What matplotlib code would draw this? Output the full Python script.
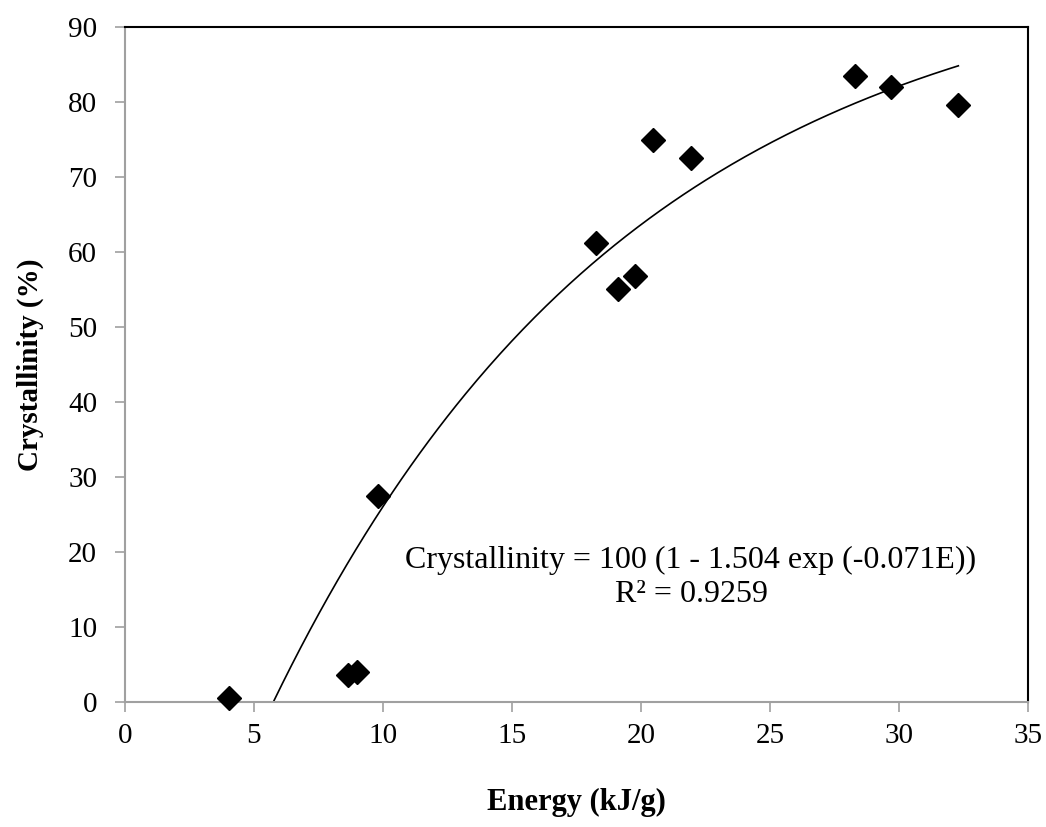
import numpy as np
import matplotlib
matplotlib.use("Agg")
import matplotlib.pyplot as plt

energy = [4.03, 8.65, 8.98, 9.8, 18.27, 19.1, 19.75, 20.48, 21.95, 28.3, 29.7, 32.27]
crystallinity = [0.5, 3.6, 4.0, 27.5, 61.2, 55.0, 56.8, 74.9, 72.5, 83.5, 82.0, 79.6]

fit_a = 100.0
fit_b = 1.504
fit_k = 0.071
fit_range = [5.75, 32.3]

x_ticks = [0, 5, 10, 15, 20, 25, 30, 35]
y_ticks = [0, 10, 20, 30, 40, 50, 60, 70, 80, 90]

plt.rcParams['font.family'] = ['Liberation Serif', 'DejaVu Serif']

fig = plt.figure(figsize=(10.46, 8.27), dpi=100)
ax = fig.add_axes([0.1195, 0.1511, 0.9828 - 0.1195, 0.9674 - 0.1511])

E = np.linspace(fit_range[0], fit_range[1], 300)
C = fit_a * (1 - fit_b * np.exp(-fit_k * E))
ax.plot(E, C, color='black', lw=1.2, zorder=2)
ax.plot(energy, crystallinity, linestyle='none', marker='D', ms=12,
        color='black', zorder=3, clip_on=False)

ax.set_xlim(0, 35)
ax.set_ylim(0, 90)
ax.set_xticks(x_ticks)
ax.set_yticks(y_ticks)
ax.tick_params(direction='out', length=7, width=1.2, color='#a0a0a0',
               labelsize=21)
ax.tick_params(axis='x', pad=8)
ax.tick_params(axis='y', pad=13)
for s in ['left', 'bottom']:
    ax.spines[s].set_color('#a0a0a0')
    ax.spines[s].set_linewidth(1.5)
for s in ['top', 'right']:
    ax.spines[s].set_color('black')
    ax.spines[s].set_linewidth(1.5)

ax.set_xlabel('Energy (kJ/g)', fontsize=22, fontweight='bold', labelpad=28)
ax.set_ylabel('Crystallinity (%)', fontsize=21, fontweight='bold', labelpad=17)

ax.text(21.94, 18.9, 'Crystallinity = 100 (1 - 1.504 exp (-0.071E))',
        ha='center', va='center', fontsize=23)
ax.text(21.94, 14.3, 'R² = 0.9259', ha='center', va='center', fontsize=23)

fig.savefig('out.png', dpi=100)
